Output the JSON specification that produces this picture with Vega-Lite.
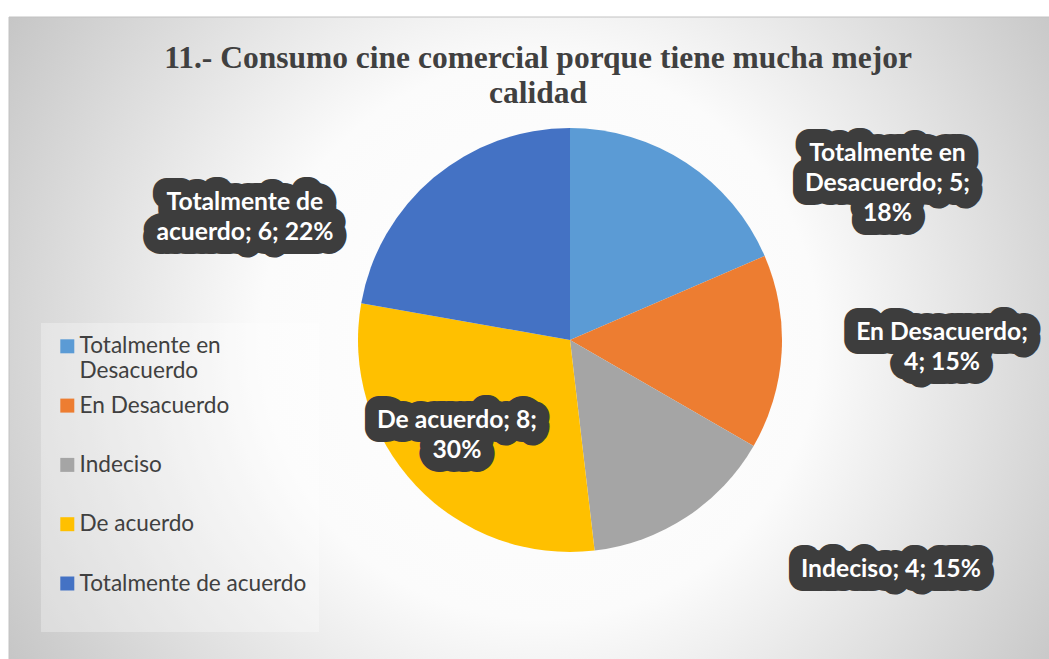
{
  "$schema": "https://vega.github.io/schema/vega-lite/v6.json",
  "width": 1122,
  "height": 646,
  "autosize": {"type": "none"},
  "padding": {"left": 9, "top": 17, "right": -82, "bottom": -4},
  "background": "#ffffff",
  "config": {
    "view": {"stroke": null},
    "text": {"lineBreak": "\n", "align": "center", "baseline": "middle", "font": "Lato", "fontWeight": "bold", "fontSize": 24.7, "lineHeight": 30, "strokeJoin": "round"}
  },
  "title": {
    "text": ["11.- Consumo cine comercial porque tiene mucha mejor", "calidad"],
    "font": "Liberation Serif",
    "fontSize": 31.5,
    "fontWeight": "bold",
    "color": "#404040",
    "lineHeight": 35,
    "anchor": "middle",
    "frame": "group",
    "offset": -93,
    "dx": -32
  },
  "datasets": {
    "respuestas": [
      {"categoria": "Totalmente en Desacuerdo", "valor": 5, "orden": 1, "etiqueta": "Totalmente en\nDesacuerdo; 5;\n18%"},
      {"categoria": "En Desacuerdo", "valor": 4, "orden": 2, "etiqueta": "En Desacuerdo;\n4; 15%"},
      {"categoria": "Indeciso", "valor": 4, "orden": 3, "etiqueta": "Indeciso; 4; 15%"},
      {"categoria": "De acuerdo", "valor": 8, "orden": 4, "etiqueta": "De acuerdo; 8;\n30%"},
      {"categoria": "Totalmente de acuerdo", "valor": 6, "orden": 5, "etiqueta": "Totalmente de\nacuerdo; 6; 22%"}
    ]
  },
  "data": {"name": "respuestas"},
  "layer": [
    {
      "data": {"values": [{"fondo": "area"}]},
      "mark": {
        "type": "rect",
        "fill": {
          "gradient": "radial",
          "x1": 0.473, "y1": 0.5, "r1": 0,
          "x2": 0.473, "y2": 0.5, "r2": 0.553,
          "stops": [
            {"offset": 0, "color": "#ffffff"},
            {"offset": 0.45, "color": "#fbfbfb"},
            {"offset": 1, "color": "#c6c6c6"}
          ]
        },
        "stroke": "#c2c2c2",
        "strokeWidth": 1
      },
      "encoding": {}
    },
    {
      "mark": {"type": "arc", "outerRadius": 212},
      "encoding": {
        "theta": {"field": "valor", "type": "quantitative", "stack": true},
        "order": {"field": "orden", "type": "quantitative"},
        "color": {
          "field": "categoria",
          "type": "nominal",
          "sort": null,
          "scale": {
            "domain": ["Totalmente en Desacuerdo", "En Desacuerdo", "Indeciso", "De acuerdo", "Totalmente de acuerdo"],
            "range": ["#5B9BD5", "#ED7D31", "#A5A5A5", "#FFC000", "#4472C4"]
          },
          "legend": {
            "orient": "none",
            "legendX": 32,
            "legendY": 306,
            "title": null,
            "symbolType": "square",
            "symbolSize": 196,
            "symbolStrokeWidth": 0,
            "symbolOffset": 3,
            "labelFont": "Lato",
            "labelFontSize": 22.6,
            "labelColor": "#404040",
            "labelOffset": 1,
            "labelLimit": 400,
            "labelExpr": "datum.label == 'Totalmente en Desacuerdo' ? ['Totalmente en', 'Desacuerdo'] : [datum.label, '']",
            "rowPadding": 11.3,
            "padding": 12,
            "fillColor": "rgba(255,255,255,0.3)"
          }
        }
      }
    },
    {
      "transform": [
        {"stack": "valor", "groupby": [], "sort": [{"field": "orden", "order": "ascending"}], "as": ["ini", "fin"]},
        {"filter": "datum.orden == 1"}
      ],
      "encoding": {
        "theta": {"field": "ini", "type": "quantitative", "stack": null},
        "text": {"field": "etiqueta", "type": "nominal"}
      },
      "layer": [
        {"mark": {"type": "text", "radius": 354.6, "thetaOffset": 1.109, "dy": -28.5, "fill": "#3d3d3d", "stroke": "#3d3d3d", "strokeWidth": 28}},
        {"mark": {"type": "text", "radius": 354.6, "thetaOffset": 1.109, "dy": -28.5, "fill": "#3d3d3d", "stroke": "#3d3d3d", "strokeWidth": 23}},
        {"mark": {"type": "text", "radius": 354.6, "thetaOffset": 1.109, "dy": -28.5, "fill": "#3d3d3d", "stroke": "#3d3d3d", "strokeWidth": 17}},
        {"mark": {"type": "text", "radius": 354.6, "thetaOffset": 1.109, "dy": -28.5, "fill": "#ffffff"}}
      ]
    },
    {
      "transform": [
        {"stack": "valor", "groupby": [], "sort": [{"field": "orden", "order": "ascending"}], "as": ["ini", "fin"]},
        {"filter": "datum.orden == 2"}
      ],
      "encoding": {
        "theta": {"field": "ini", "type": "quantitative", "stack": null},
        "text": {"field": "etiqueta", "type": "nominal"}
      },
      "layer": [
        {"mark": {"type": "text", "radius": 372.1, "thetaOffset": 0.4247, "dy": -13.5, "fill": "#3d3d3d", "stroke": "#3d3d3d", "strokeWidth": 28}},
        {"mark": {"type": "text", "radius": 372.1, "thetaOffset": 0.4247, "dy": -13.5, "fill": "#3d3d3d", "stroke": "#3d3d3d", "strokeWidth": 23}},
        {"mark": {"type": "text", "radius": 372.1, "thetaOffset": 0.4247, "dy": -13.5, "fill": "#3d3d3d", "stroke": "#3d3d3d", "strokeWidth": 17}},
        {"mark": {"type": "text", "radius": 372.1, "thetaOffset": 0.4247, "dy": -13.5, "fill": "#ffffff"}}
      ]
    },
    {
      "transform": [
        {"stack": "valor", "groupby": [], "sort": [{"field": "orden", "order": "ascending"}], "as": ["ini", "fin"]},
        {"filter": "datum.orden == 3"}
      ],
      "encoding": {
        "theta": {"field": "ini", "type": "quantitative", "stack": null},
        "text": {"field": "etiqueta", "type": "nominal"}
      },
      "layer": [
        {"mark": {"type": "text", "radius": 393.7, "thetaOffset": 0.0942, "dy": 1.5, "fill": "#3d3d3d", "stroke": "#3d3d3d", "strokeWidth": 28}},
        {"mark": {"type": "text", "radius": 393.7, "thetaOffset": 0.0942, "dy": 1.5, "fill": "#3d3d3d", "stroke": "#3d3d3d", "strokeWidth": 23}},
        {"mark": {"type": "text", "radius": 393.7, "thetaOffset": 0.0942, "dy": 1.5, "fill": "#3d3d3d", "stroke": "#3d3d3d", "strokeWidth": 17}},
        {"mark": {"type": "text", "radius": 393.7, "thetaOffset": 0.0942, "dy": 1.5, "fill": "#ffffff"}}
      ]
    },
    {
      "transform": [
        {"stack": "valor", "groupby": [], "sort": [{"field": "orden", "order": "ascending"}], "as": ["ini", "fin"]},
        {"filter": "datum.orden == 4"}
      ],
      "encoding": {
        "theta": {"field": "ini", "type": "quantitative", "stack": null},
        "text": {"field": "etiqueta", "type": "nominal"}
      },
      "layer": [
        {"mark": {"type": "text", "radius": 147.3, "thetaOffset": 0.9908, "dy": -13.5, "fill": "#3d3d3d", "stroke": "#3d3d3d", "strokeWidth": 28}},
        {"mark": {"type": "text", "radius": 147.3, "thetaOffset": 0.9908, "dy": -13.5, "fill": "#3d3d3d", "stroke": "#3d3d3d", "strokeWidth": 23}},
        {"mark": {"type": "text", "radius": 147.3, "thetaOffset": 0.9908, "dy": -13.5, "fill": "#3d3d3d", "stroke": "#3d3d3d", "strokeWidth": 17}},
        {"mark": {"type": "text", "radius": 147.3, "thetaOffset": 0.9908, "dy": -13.5, "fill": "#ffffff"}}
      ]
    },
    {
      "transform": [
        {"stack": "valor", "groupby": [], "sort": [{"field": "orden", "order": "ascending"}], "as": ["ini", "fin"]},
        {"filter": "datum.orden == 5"}
      ],
      "encoding": {
        "theta": {"field": "ini", "type": "quantitative", "stack": null},
        "text": {"field": "etiqueta", "type": "nominal"}
      },
      "layer": [
        {"mark": {"type": "text", "radius": 347.7, "thetaOffset": 0.1885, "dy": -13.5, "fill": "#3d3d3d", "stroke": "#3d3d3d", "strokeWidth": 28}},
        {"mark": {"type": "text", "radius": 347.7, "thetaOffset": 0.1885, "dy": -13.5, "fill": "#3d3d3d", "stroke": "#3d3d3d", "strokeWidth": 23}},
        {"mark": {"type": "text", "radius": 347.7, "thetaOffset": 0.1885, "dy": -13.5, "fill": "#3d3d3d", "stroke": "#3d3d3d", "strokeWidth": 17}},
        {"mark": {"type": "text", "radius": 347.7, "thetaOffset": 0.1885, "dy": -13.5, "fill": "#ffffff"}}
      ]
    }
  ]
}
